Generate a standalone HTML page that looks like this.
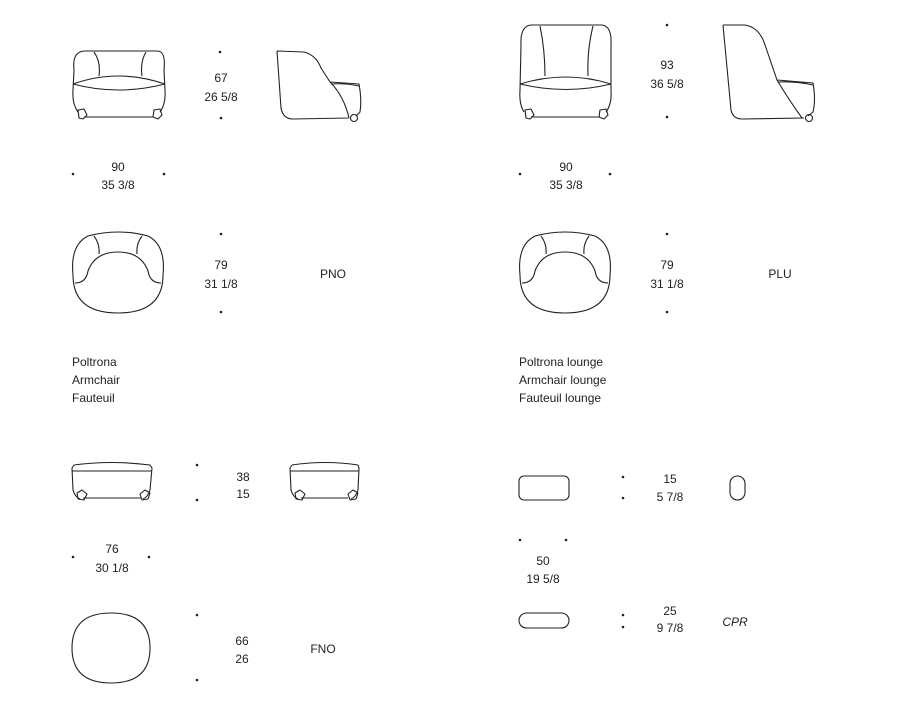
<!DOCTYPE html>
<html><head><meta charset="utf-8"><style>
html,body{margin:0;padding:0;background:#fff;}
svg{display:block}
text{font-family:"Liberation Sans",sans-serif;font-size:12px;fill:#222;}
.c{text-anchor:middle}
</style></head><body>
<svg width="900" height="702" viewBox="0 0 900 702" xmlns="http://www.w3.org/2000/svg">
<g fill="none" stroke="#222" stroke-width="1.1" stroke-linejoin="round">
<!-- PNO front -->
<path d="M84,51 Q72,52 74,70 L73,90 Q72,104 78,112 M158,51 Q166,52 164,70 L165,90 Q166,104 160,112 M84,51 L158,51 M94,52 Q101,62 99,76 M146,52 Q140,62 142,76 M73,84 Q118,68 165,84 M73,84 Q118,96 165,84 M84,117 L153,117"/>
<path d="M78,110 L84,109 L87,115 L83,119 L79,118 Z M154,110 L160,109 L162,115 L158,119 L153,117 Z"/>
<!-- PNO side -->
<path d="M277,51 L281,108 Q283,119 293,119 L349,118 M277,51 L304,52 Q316,55 321,68 L330,82 Q344,96 349,118 M330,82 L359,84 Q362,100 360,112 L356,116 M331,84 Q345,83 359,86"/>
<circle cx="354" cy="118" r="3.5"/>
<!-- PNO top -->
<path d="M88,236 Q118,228 148,236 Q166,245 163,275 Q163,313 118,313 Q73,313 73,275 Q70,245 88,236 Z M75,283 Q86,283 88,271 Q95,252 118,252 Q141,252 148,271 Q150,283 161,283 M94,236 Q100,244 99,254 M142,236 Q136,244 137,254"/>
<!-- PLU front -->
<path d="M531,25 Q520,26 521,45 L520,90 Q519,104 524,112 M602,25 Q612,26 611,45 L611,90 Q612,104 606,112 M531,25 L602,25 M540,26 Q545,50 545,76 M593,26 Q587,50 588,76 M520,84 Q566,70 611,84 M520,84 Q566,95 611,84 M531,117 L600,117"/>
<path d="M525,110 L531,109 L534,115 L530,119 L526,118 Z M600,110 L606,109 L608,115 L604,119 L599,117 Z"/>
<!-- PLU side -->
<path d="M723,25 L731,110 Q733,119 742,119 L804,118 M723,25 L745,25 Q758,27 764,42 L777,80 Q789,100 802,118 M777,80 L813,83 Q816,100 813,112 L808,116 M778,82 Q795,81 813,85"/>
<circle cx="809" cy="118" r="3.5"/>
<!-- PLU top -->
<path d="M535,236 Q565,228 595,236 Q613,245 610,275 Q610,313 565,313 Q520,313 520,275 Q517,245 535,236 Z M522,283 Q533,283 535,271 Q542,252 565,252 Q588,252 595,271 Q597,283 608,283 M541,236 Q547,244 546,254 M589,236 Q583,244 584,254"/>
<!-- FNO front -->
<path d="M74,465 Q112,460 150,465 L152,468 L150,490 Q148,497 143,499 M74,465 L72,468 L73,490 Q75,497 80,499 M72,471 L152,471 M83,498 L141,498"/>
<path d="M77,493 L82,490 L87,494 L84,500 L78,499 Z M140,494 L145,490 L150,493 L148,499 L142,500 Z"/>
<path d="M292,465 Q325,460 358,465 L359,468 L358,490 Q356,497 351,499 M292,465 L290,468 L291,490 Q293,497 298,499 M290,471 L359,471 M301,498 L348,498"/>
<path d="M295,493 L300,490 L305,494 L302,500 L296,499 Z M348,494 L353,490 L358,493 L356,499 L350,500 Z"/>
<!-- FNO top -->
<path d="M111,613 Q150,613 150,648 Q150,683 111,683 Q72,683 72,648 Q72,613 111,613 Z"/>
<!-- CPR -->
<rect x="519" y="476" width="50" height="24" rx="5"/>
<rect x="730" y="476" width="15" height="24" rx="7.5"/>
<rect x="519" y="613" width="50" height="15" rx="7.5"/>
</g>
<g fill="#222">
<circle cx="220" cy="52" r="1.3"/><circle cx="221" cy="118" r="1.3"/>
<circle cx="73" cy="174" r="1.3"/><circle cx="164" cy="174" r="1.3"/>
<circle cx="221" cy="234" r="1.3"/><circle cx="221" cy="312" r="1.3"/>
<circle cx="667" cy="25" r="1.3"/><circle cx="667" cy="117" r="1.3"/>
<circle cx="520" cy="174" r="1.3"/><circle cx="610" cy="174" r="1.3"/>
<circle cx="667" cy="234" r="1.3"/><circle cx="667" cy="312" r="1.3"/>
<circle cx="197" cy="465" r="1.3"/><circle cx="197" cy="500" r="1.3"/>
<circle cx="73" cy="557" r="1.3"/><circle cx="149" cy="557" r="1.3"/>
<circle cx="197" cy="615" r="1.3"/><circle cx="197" cy="680" r="1.3"/>
<circle cx="623" cy="477" r="1.3"/><circle cx="623" cy="498" r="1.3"/>
<circle cx="520" cy="540" r="1.3"/><circle cx="566" cy="540" r="1.3"/>
<circle cx="623" cy="615" r="1.3"/><circle cx="623" cy="627" r="1.3"/>
</g>
<text class="c" x="221" y="82">67</text><text class="c" x="221" y="101">26 5/8</text>
<text class="c" x="118" y="171">90</text><text class="c" x="118" y="189">35 3/8</text>
<text class="c" x="221" y="269">79</text><text class="c" x="221" y="288">31 1/8</text>
<text class="c" x="333" y="278">PNO</text>
<text x="72" y="366">Poltrona</text><text x="72" y="384">Armchair</text><text x="72" y="402">Fauteuil</text>
<text class="c" x="667" y="69">93</text><text class="c" x="667" y="88">36 5/8</text>
<text class="c" x="566" y="171">90</text><text class="c" x="566" y="189">35 3/8</text>
<text class="c" x="667" y="269">79</text><text class="c" x="667" y="288">31 1/8</text>
<text class="c" x="780" y="278">PLU</text>
<text x="519" y="366">Poltrona lounge</text><text x="519" y="384">Armchair lounge</text><text x="519" y="402">Fauteuil lounge</text>
<text class="c" x="243" y="481">38</text><text class="c" x="243" y="498">15</text>
<text class="c" x="112" y="553">76</text><text class="c" x="112" y="572">30 1/8</text>
<text class="c" x="242" y="645">66</text><text class="c" x="242" y="663">26</text>
<text class="c" x="323" y="653">FNO</text>
<text class="c" x="670" y="483">15</text><text class="c" x="670" y="501">5 7/8</text>
<text class="c" x="543" y="565">50</text><text class="c" x="543" y="583">19 5/8</text>
<text class="c" x="670" y="615">25</text><text class="c" x="670" y="632">9 7/8</text>
<text class="c" x="735" y="626" font-style="italic">CPR</text>
</svg>
</body></html>
